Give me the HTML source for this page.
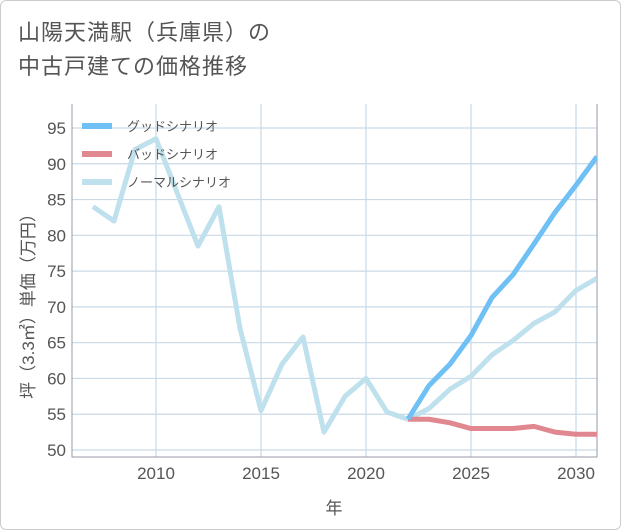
<!DOCTYPE html>
<html><head><meta charset="utf-8"><style>
body{margin:0;background:#fff;font-family:"Liberation Sans","Noto Sans CJK JP",sans-serif;}
#frame{position:absolute;left:0;top:0;width:619px;height:528px;border:1px solid #ccc;border-radius:6px;background:#fff;}
#title{position:absolute;left:18px;top:16px;font-size:22px;line-height:34px;color:#555;letter-spacing:1px;}
svg{position:absolute;left:0;top:0;}
</style></head><body>
<div id="frame"></div>
<div id="title">山陽天満駅（兵庫県）の<br>中古戸建ての価格推移</div>
<svg id="chart" width="621" height="530"></svg>
<script>
const years=[2007,2008,2009,2010,2011,2012,2013,2014,2015,2016,2017,2018,2019,2020,2021,2022,2023,2024,2025,2026,2027,2028,2029,2030,2031];
const normalVals=[84,82,92,93.5,86,78.5,84,67,55.5,62,65.8,52.5,57.5,60,55.3,54.3,55.8,58.5,60.3,63.3,65.3,67.7,69.3,72.3,74];
const goodYears=[2022,2023,2024,2025,2026,2027,2028,2029,2030,2031];
const goodVals=[54.3,59,62,66,71.3,74.5,78.8,83.2,87,91];
const badVals=[54.3,54.3,53.8,53,53,53,53.3,52.5,52.2,52.2];
const yTicks=[50,55,60,65,70,75,80,85,90,95];
const xTicks=[2010,2015,2020,2025,2030];
const NS="http://www.w3.org/2000/svg";
const svg=document.getElementById('chart');
const L=72,R=597,T=104,B=457;
const xs=y=>156+(y-2010)*21;
const ys=v=>128+(95-v)*(322/45);
function el(t,a,p){const e=document.createElementNS(NS,t);for(const k in a)e.setAttribute(k,a[k]);(p||svg).appendChild(e);return e;}
const g=el('g',{});


yTicks.forEach(v=>{
 const l=el('line',{x1:L,x2:R,y1:ys(v),y2:ys(v),stroke:'#c9d9e6','stroke-width':1.2},g);
 
 
 const t=el('text',{x:66,y:ys(v)+6,'text-anchor':'end','font-size':17,fill:'#555'});
 t.textContent=v;
 
 
});
xTicks.forEach(y=>{
 const l=el('line',{x1:xs(y),x2:xs(y),y1:T,y2:B,stroke:'#c9d9e6','stroke-width':1.2},g);
 
 
 const t=el('text',{x:xs(y),y:479,'text-anchor':'middle','font-size':17,fill:'#555'});
 t.textContent=y;
 
 
});
const ax=el('path',{d:`M${L} ${T}V${B}H${R}V${T}`,fill:'none',stroke:'#99a','stroke-width':1});


const clip=el('clipPath',{id:'c'});el('rect',{x:L,y:T,width:R-L,height:B-T},clip);
function line(xv,vals,color,name){
 const p=el('polyline',{points:vals.map((v,i)=>xs(xv[i])+','+ys(v)).join(' '),fill:'none',stroke:color,'stroke-width':5,'stroke-linejoin':'round','clip-path':'url(#c)'});
 
 
}
line(years,normalVals,'#bfe0ed','normal-scenario-line');
line(goodYears,badVals,'#e0878f','bad-scenario-line');
line(goodYears,goodVals,'#6ec0f5','good-scenario-line');
const leg=[['グッドシナリオ','#6ec0f5'],['バッドシナリオ','#e0878f'],['ノーマルシナリオ','#bfe0ed']];
leg.forEach((d,i)=>{
 const y=126+i*28;
 const r=el('rect',{x:82,y:y-3,width:30,height:6,fill:d[1]});
 
 
 const t=el('text',{x:127,y:y+5,'font-size':13,fill:'#555'});
 t.textContent=d[0];
 
 
});
const xt=el('text',{x:334,y:514,'text-anchor':'middle','font-size':17,fill:'#555'});
xt.textContent='年';


const yt=el('text',{x:0,y:0,'text-anchor':'middle','font-size':17,fill:'#555',transform:'translate(34,302) rotate(-90)'});
yt.textContent='坪（3.3㎡）単価（万円）';


</script>
</body></html>
